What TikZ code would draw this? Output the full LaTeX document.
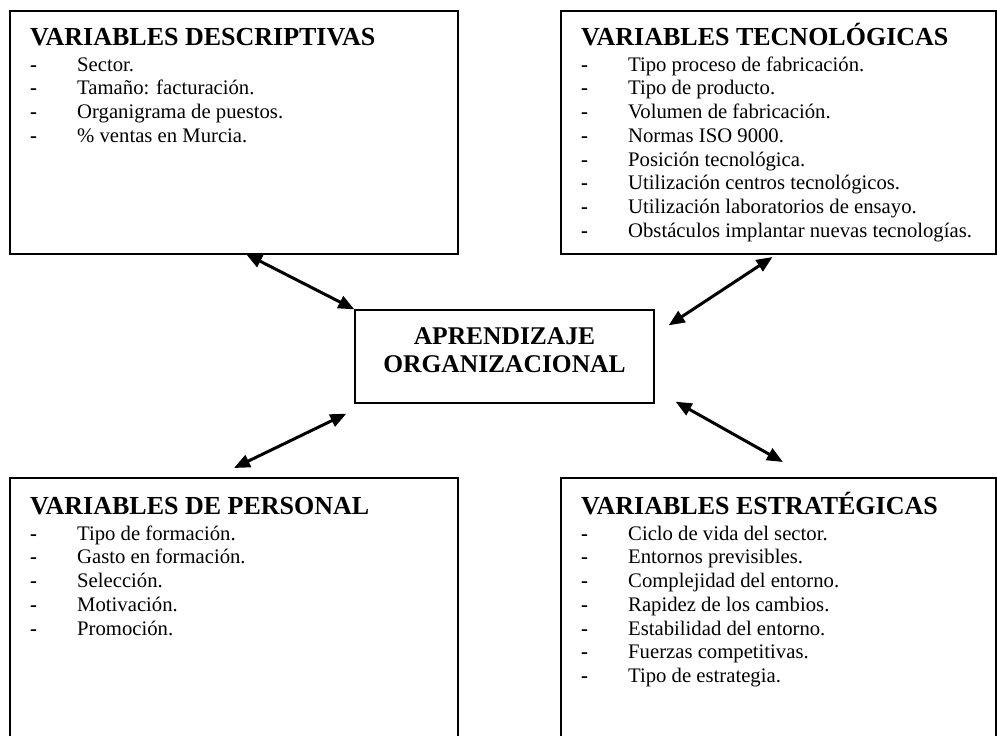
\documentclass[tikz,border=0pt]{standalone}
\usepackage{fontspec}
\setmainfont{Liberation Serif}
\usetikzlibrary{arrows.meta,positioning}

\newcommand{\itemdash}{\makebox[47pt][l]{\textbf{-}}}

\begin{document}
\begin{tikzpicture}[x=1pt,y=-1pt]
  \tikzstyle{varbox}=[rectangle,draw=black,line width=1.8pt,inner sep=0pt,outer sep=0pt]
  \tikzstyle{vartext}=[anchor=north west,inner sep=0pt,align=left,font=\fontsize{20.7}{23.7}\selectfont]
  \tikzstyle{centerbox}=[rectangle,draw=black,line width=1.3pt,minimum width=299pt,minimum height=93pt,align=center,font=\fontsize{25.5}{28}\selectfont\bfseries]
  \tikzstyle{dblarrow}=[{Triangle[length=16pt,width=13pt]}-{Triangle[length=16pt,width=13pt]},line width=3pt]

  \useasboundingbox (0,0) rectangle (997,736);
  \clip (0,0) rectangle (997,736);

  % the four groups of variables
  \node[varbox,minimum width=448pt,minimum height=243pt,anchor=north west] (desc) at (10,11) {};
  \node[varbox,minimum width=435pt,minimum height=243pt,right=103pt of desc] (tec) {};
  \node[varbox,minimum width=448pt,minimum height=280pt,below=224pt of desc] (pers) {};
  \node[varbox,minimum width=435pt,minimum height=280pt,right=103pt of pers] (estr) {};

  \node[vartext] (descText) at ([xshift=20pt,yshift=-9pt]desc.north west) {\rule{0pt}{25pt}{\fontsize{26}{28}\selectfont\bfseries VARIABLES DESCRIPTIVAS}\\[2.3pt]
    \itemdash Sector.\\
    \itemdash Tamaño: facturación.\\
    \itemdash Organigrama de puestos.\\
    \itemdash \% ventas en Murcia.};
  \node[vartext] (tecText) at ([xshift=20pt,yshift=-9pt]tec.north west) {\rule{0pt}{25pt}{\fontsize{26}{28}\selectfont\bfseries VARIABLES TECNOLÓGICAS}\\[2.3pt]
    \itemdash Tipo proceso de fabricación.\\
    \itemdash Tipo de producto.\\
    \itemdash Volumen de fabricación.\\
    \itemdash Normas ISO 9000.\\
    \itemdash Posición tecnológica.\\
    \itemdash Utilización centros tecnológicos.\\
    \itemdash Utilización laboratorios de ensayo.\\
    \itemdash Obstáculos implantar nuevas tecnologías.};
  \node[vartext] (persText) at ([xshift=20pt,yshift=-11pt]pers.north west) {\rule{0pt}{25pt}{\fontsize{26}{28}\selectfont\bfseries VARIABLES DE PERSONAL}\\[2.3pt]
    \itemdash Tipo de formación.\\
    \itemdash Gasto en formación.\\
    \itemdash Selección.\\
    \itemdash Motivación.\\
    \itemdash Promoción.};
  \node[vartext] (estrText) at ([xshift=20pt,yshift=-11pt]estr.north west) {\rule{0pt}{25pt}{\fontsize{26}{28}\selectfont\bfseries VARIABLES ESTRATÉGICAS}\\[2.3pt]
    \itemdash Ciclo de vida del sector.\\
    \itemdash Entornos previsibles.\\
    \itemdash Complejidad del entorno.\\
    \itemdash Rapidez de los cambios.\\
    \itemdash Estabilidad del entorno.\\
    \itemdash Fuerzas competitivas.\\
    \itemdash Tipo de estrategia.};

  % centre
  \node[centerbox] (apr) at (504.5,356.5) {APRENDIZAJE\\ORGANIZACIONAL\rule[-12pt]{0pt}{12pt}};

  \draw[dblarrow] ([xshift=12pt]desc.south) -- (apr.north west);
  \draw[dblarrow] ([yshift=10pt]pers.north) -- ([xshift=-8pt,yshift=-10pt]apr.south west);
  \draw[dblarrow] ([xshift=-6pt,yshift=-3pt]tec.south) -- ([xshift=14pt,yshift=-16pt]apr.north east);
  \draw[dblarrow] ([xshift=21pt,yshift=2pt]apr.south east) -- ([xshift=4.5pt,yshift=16pt]estr.north);
\end{tikzpicture}
\end{document}
